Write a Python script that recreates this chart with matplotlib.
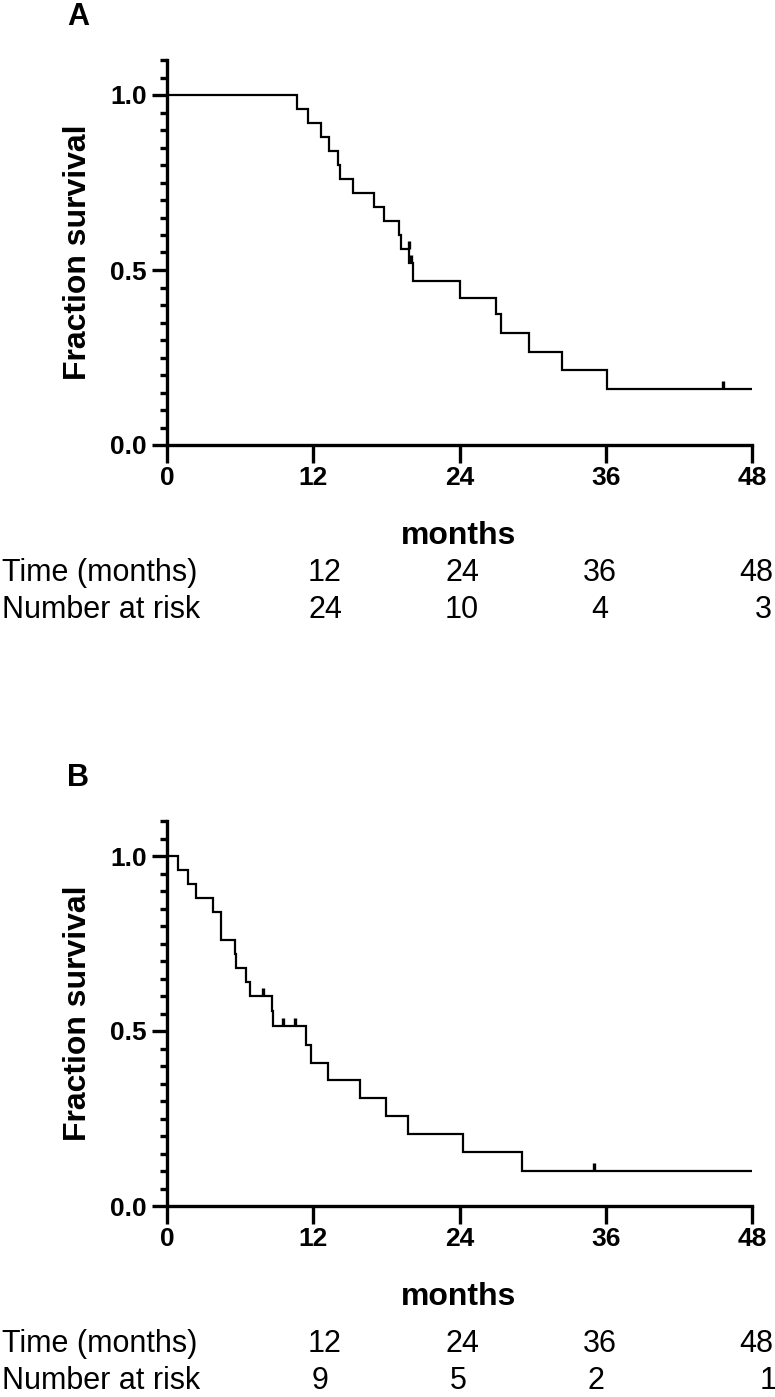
import matplotlib
matplotlib.use("Agg")
import matplotlib.pyplot as plt
from matplotlib.ticker import MultipleLocator, FixedLocator
from matplotlib.markers import TICKUP

# ---------------- data ----------------
times_A = [0, 10.7, 11.6, 12.6, 13.3, 14.0, 14.2, 15.3, 17.0, 17.8, 19.0, 19.2,
           19.85, 20.2, 24.0, 27.0, 27.4, 29.7, 32.4, 36.1, 48]
surv_A = [1.0, 0.96, 0.92, 0.88, 0.84, 0.80, 0.76, 0.72, 0.68, 0.64, 0.60, 0.56,
          0.52, 0.47, 0.42, 0.374, 0.32, 0.267, 0.214, 0.16, 0.16]
cens_t_A = [19.85, 20.0, 45.6]
cens_s_A = [0.56, 0.52, 0.16]

times_B = [0, 0.93, 1.7, 2.4, 3.8, 4.4, 5.6, 5.7, 6.5, 6.8, 8.6, 8.7, 11.4, 11.8,
           13.2, 15.8, 18.0, 19.8, 24.3, 29.15, 48]
surv_B = [1.0, 0.96, 0.92, 0.88, 0.84, 0.76, 0.72, 0.68, 0.64, 0.60, 0.556, 0.513,
          0.46, 0.41, 0.36, 0.31, 0.256, 0.205, 0.154, 0.10, 0.10]
cens_t_B = [7.85, 9.55, 10.5, 35.0]
cens_s_B = [0.60, 0.513, 0.513, 0.10]

risk_times = [12, 24, 36, 48]
risk_A = [24, 10, 4, 3]
risk_B = [9, 5, 2, 1]

x_ticks = [0, 12, 24, 36, 48]
y_ticks = [0.0, 0.5, 1.0]
y_ticklabels = ["0.0", "0.5", "1.0"]

# ---------------- layout ----------------
W, H = 775, 1397
fig = plt.figure(figsize=(W / 100, H / 100), dpi=100)

BOLD = dict(family=["Liberation Sans", "DejaVu Sans"], weight="bold")
PLAIN = ["Liberation Sans", "DejaVu Sans"]

def fy(ypx):
    return 1 - ypx / H

def fx(xpx):
    return xpx / W

def panel(letter, y_top, y_zero, times, surv, ct, cs, risk, risk_x, row1, row2):
    left, right = 167, 752
    ax = fig.add_axes([fx(left), fy(y_zero), (right - left) / W, (y_zero - y_top) / H])
    ax.step(times, surv, where="post", color="black", lw=1.6, solid_joinstyle="miter")
    ax.plot(ct, cs, linestyle="none", marker=TICKUP, markersize=6,
            markeredgewidth=2.4, color="black")
    ax.set_xlim(0, 48)
    ax.set_ylim(0, 1.1)
    for s in ["top", "right"]:
        ax.spines[s].set_visible(False)
    for s in ["left", "bottom"]:
        ax.spines[s].set_linewidth(2.4)
    ax.xaxis.set_major_locator(FixedLocator(x_ticks))
    ax.set_xticklabels([str(t) for t in x_ticks], fontsize=19, **BOLD)
    ax.yaxis.set_major_locator(FixedLocator(y_ticks))
    ax.yaxis.set_minor_locator(MultipleLocator(0.05))
    ax.set_yticklabels(y_ticklabels, fontsize=19, **BOLD)
    ax.tick_params(axis="y", which="major", length=11, width=2.4, pad=3.5)
    ax.tick_params(axis="y", which="minor", length=5, width=2.4)
    ax.tick_params(axis="x", which="major", length=13, width=2.4, pad=2)

    yc = (y_top + y_zero) / 2
    fig.text(fx(78), fy(yc), "Fraction survival", fontsize=23, rotation=90,
             ha="center", va="center", **BOLD)
    fig.text(fx(67), fy(y_top - 43), letter, fontsize=22, ha="left", va="center", **BOLD)
    fig.text(fx(459), fy(y_zero + 91), "months", fontsize=23, ha="center", va="center", **BOLD)
    fig.text(fx(2), fy(y_zero + row1), "Time (months)", fontsize=22, ha="left",
             va="center", family=PLAIN)
    fig.text(fx(2), fy(y_zero + row2), "Number at risk", fontsize=22, ha="left",
             va="center", family=PLAIN)
    tx = [325, 462, 600, 756]
    for x, t in zip(tx, risk_times):
        fig.text(fx(x), fy(y_zero + row1), str(t), fontsize=22, ha="center",
                 va="center", family=PLAIN)
    for x, r in zip(risk_x, risk):
        fig.text(fx(x), fy(y_zero + row2), str(r), fontsize=22, ha="center",
                 va="center", family=PLAIN)
    return ax

panel("A", 60, 445, times_A, surv_A, cens_t_A, cens_s_A, risk_A,
      [325, 462, 600, 763], 128, 165)
panel("B", 821, 1206, times_B, surv_B, cens_t_B, cens_s_B, risk_B,
      [320, 458, 596, 768], 138, 175)

fig.savefig("out.png", dpi=100, facecolor="white")
